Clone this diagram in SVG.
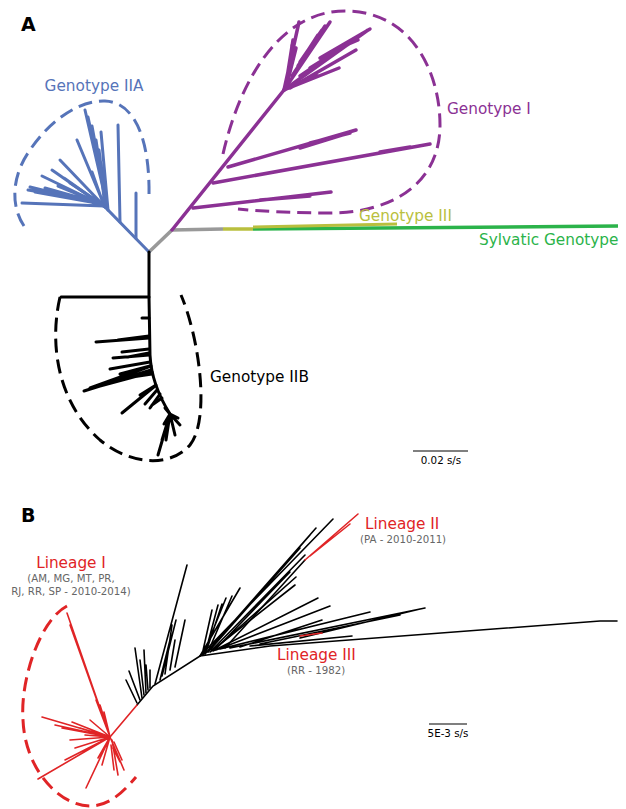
<svg xmlns="http://www.w3.org/2000/svg" width="626" height="809" viewBox="0 0 626 809">
<style>
text{font-family:"DejaVu Sans","Liberation Sans",sans-serif}
.lbl{font-size:15.3px}
.sub{font-size:10.2px;fill:#666}
.pl{font-size:19px;font-weight:bold;fill:#000}
.sc{font-size:10.3px;fill:#000}
.b{stroke:#5674b9;stroke-width:3;fill:none;stroke-linecap:round}
.p{stroke:#8b3194;stroke-width:3.5;fill:none;stroke-linecap:round}
.k{stroke:#000;stroke-width:3;fill:none;stroke-linecap:round}
.kb{stroke:#000;stroke-width:1.6;fill:none;stroke-linecap:round}
.r{stroke:#e02426;stroke-width:1.6;fill:none;stroke-linecap:round}
.d{stroke-width:3;fill:none;stroke-dasharray:14 7}
</style>
<rect width="626" height="809" fill="#fff"/>
<text class="pl" x="21" y="31">A</text>
<text class="pl" x="21" y="522">B</text>

<g id="panelA">
<path d="M149,252 L172,230 L223,229" stroke="#999" stroke-width="3.5" fill="none"/>
<path d="M223,229 L253,229" stroke="#b9bf3e" stroke-width="3.5" fill="none"/>
<path d="M253,229 L618,226" stroke="#2bb34a" stroke-width="3.5" fill="none"/>
<path d="M253,227 L397,224" stroke="#b9bf3e" stroke-width="3" fill="none"/>

<path class="p" d="M172,230 L284,90"/>
<path class="p" d="M193,208 L331,192 M260,200 L310,196"/>
<path class="p" d="M213,183 L430,144 M380,152 L410,147"/>
<path class="p" d="M228,167 L356,130 M300,148 L342,135 M310,143 L350,133"/>
<path class="p" d="M284,90 L299,22 M286,84 L293,40 M288,80 L296,48 M290,72 L292,45"/>
<path class="p" d="M284,90 L330,22 M292,76 L325,26 M298,66 L318,35 M300,62 L322,30"/>
<path class="p" d="M284,90 L368,30 M300,76 L362,34 M310,68 L352,42 M320,58 L370,29 M330,52 L358,40"/>
<path class="p" d="M284,90 L339,68 M300,82 L318,76 M290,88 L356,50"/>
<path d="M223,154 C240,80 280,11 345,11 C410,11 440,70 440,125 C440,185 390,213 330,213 C290,213 258,211 238,209" class="d" stroke="#8b3194"/>

<path class="b" d="M149,252 L105,207 L95,200"/>
<path class="b" d="M120,222 L118,125 M136,238 L136,193"/>
<path class="b" d="M108,210 L85,110 M108,210 L88,117 M107,208 L92,126 M106,207 L96,140 M106,207 L99,150 M108,210 L101,132"/>
<path class="b" d="M105,207 L77,140 M105,207 L100,162 M104,206 L92,172"/>
<path class="b" d="M105,207 L60,160 M105,207 L52,170 M105,207 L64,178 M104,206 L42,176"/>
<path class="b" d="M104,206 L22,203 M103,205 L30,187 M102,204 L35,192 M102,204 L45,188 M102,204 L58,186 M100,202 L28,190 M100,203 L70,183 M100,202 L60,194"/>
<path d="M24,226 C10,205 12,175 30,150 C50,120 80,100 105,101 C135,102 150,140 149,196" class="d" stroke="#5674b9"/>

<path class="k" d="M149,252 L149,297 L150,355 C151,375 158,395 170,414"/>
<path class="k" d="M61,297 L149,297 M142,318 L149,318"/>
<path class="k" d="M96,342 L149,338 M118,340 L149,336 M122,352 L149,349 M113,358 L149,355 M128,357 L149,353"/>
<path class="k" d="M110,369 L150,362 M120,374 L150,366 M90,388 L151,366 M84,391 L151,370 M100,386 L152,372 M112,380 L152,374"/>
<path class="k" d="M122,413 L155,386 M145,404 L157,390 M150,408 L160,394 M140,395 L156,385 M152,405 L162,398"/>
<path class="k" d="M170,414 L158,455 M170,414 L162,440 M170,414 L180,425 M170,414 L165,408 M170,414 L175,435 M170,414 L166,440 M170,414 L178,418 M170,414 L164,424"/>
<path d="M60,297 C50,340 55,400 100,440 C130,465 170,468 190,445 C210,420 200,340 181,295" class="d" stroke="#000"/>

<text class="lbl" x="94" y="91" text-anchor="middle" fill="#5674b9">Genotype IIA</text>
<text class="lbl" x="447" y="114" fill="#8b3194">Genotype I</text>
<text class="lbl" x="359" y="221" fill="#b9bf3e">Genotype III</text>
<text class="lbl" x="479" y="245" fill="#2bb34a">Sylvatic Genotype</text>
<text class="lbl" x="210" y="382" fill="#000">Genotype IIB</text>

<path d="M413,451 L468,451" stroke="#000" stroke-width="1.2"/>
<text class="sc" x="441" y="464" text-anchor="middle">0.02 s/s</text>
</g>

<g id="panelB">
<path class="kb" d="M617,621 L600,621 L270,646 L200,656 L153,686 L137,705"/>
<path class="kb" d="M200,656 L333,519 M205,654 L316,528 M208,652 L310,535 M210,650 L300,548 M212,650 L305,555 M214,650 L296,577 M215,650 L290,572"/>
<path class="kb" d="M225,648 L305,560"/>
<path class="r" d="M305,560 L358,514 M310,556 L350,524"/>
<path class="kb" d="M200,656 L240,588 M203,655 L226,598 M205,654 L218,605 M202,655 L212,610 M206,652 L222,604 M208,652 L232,596"/>
<path class="kb" d="M210,652 L295,585 M213,651 L318,598 M216,650 L330,606 M220,649 L370,612 M230,648 L425,608 M250,646 L352,636 M240,647 L322,620 M260,644 L400,615 M300,638 L420,609"/>
<path class="r" d="M300,636 L322,633"/>
<path class="kb" d="M155,684 L187,565 M162,676 L176,620 M165,674 L172,625 M170,670 L175,640 M175,667 L185,620 M160,680 L170,640"/>
<path class="kb" d="M140,700 L129,671 M142,698 L135,648 M144,695 L140,660 M146,693 L144,650 M148,690 L146,665 M150,688 L150,670 M137,703 L126,680"/>
<path class="r" d="M137,705 L110,737"/>
<path class="r" d="M110,737 L67,613 M110,737 L70,625 M110,737 L96,700 M110,737 L100,705 M110,737 L104,712"/>
<path class="r" d="M110,737 L42,717 M110,737 L55,725 M110,737 L62,728 M110,737 L72,722 M110,737 L80,728 M110,737 L75,730 M110,737 L90,720 M110,737 L85,735 M110,737 L70,740"/>
<path class="r" d="M110,737 L38,779 M110,737 L65,760 M110,737 L75,748 M110,737 L86,788 M110,737 L98,758 M110,737 L102,765"/>
<path class="r" d="M110,737 L124,770 M112,740 L118,775 M114,742 L122,760 M111,745 L114,770 M113,748 L120,762"/>
<path d="M67,606 C40,620 20,680 23,720 C25,770 60,806 90,806 C110,806 125,790 136,777" class="d" stroke="#e02426"/>

<text class="lbl" x="71" y="568" text-anchor="middle" fill="#e02426">Lineage I</text>
<text class="sub" x="71" y="582" text-anchor="middle">(AM, MG, MT, PR,</text>
<text class="sub" x="71" y="595" text-anchor="middle">RJ, RR, SP - 2010-2014)</text>
<text class="lbl" x="365" y="529" fill="#e02426">Lineage II</text>
<text class="sub" x="360" y="543">(PA - 2010-2011)</text>
<text class="lbl" x="277" y="660" fill="#e02426">Lineage III</text>
<text class="sub" x="287" y="674">(RR - 1982)</text>

<path d="M429,724 L467,724" stroke="#000" stroke-width="1.2"/>
<text class="sc" x="448" y="737" text-anchor="middle">5E-3 s/s</text>
</g>
</svg>
